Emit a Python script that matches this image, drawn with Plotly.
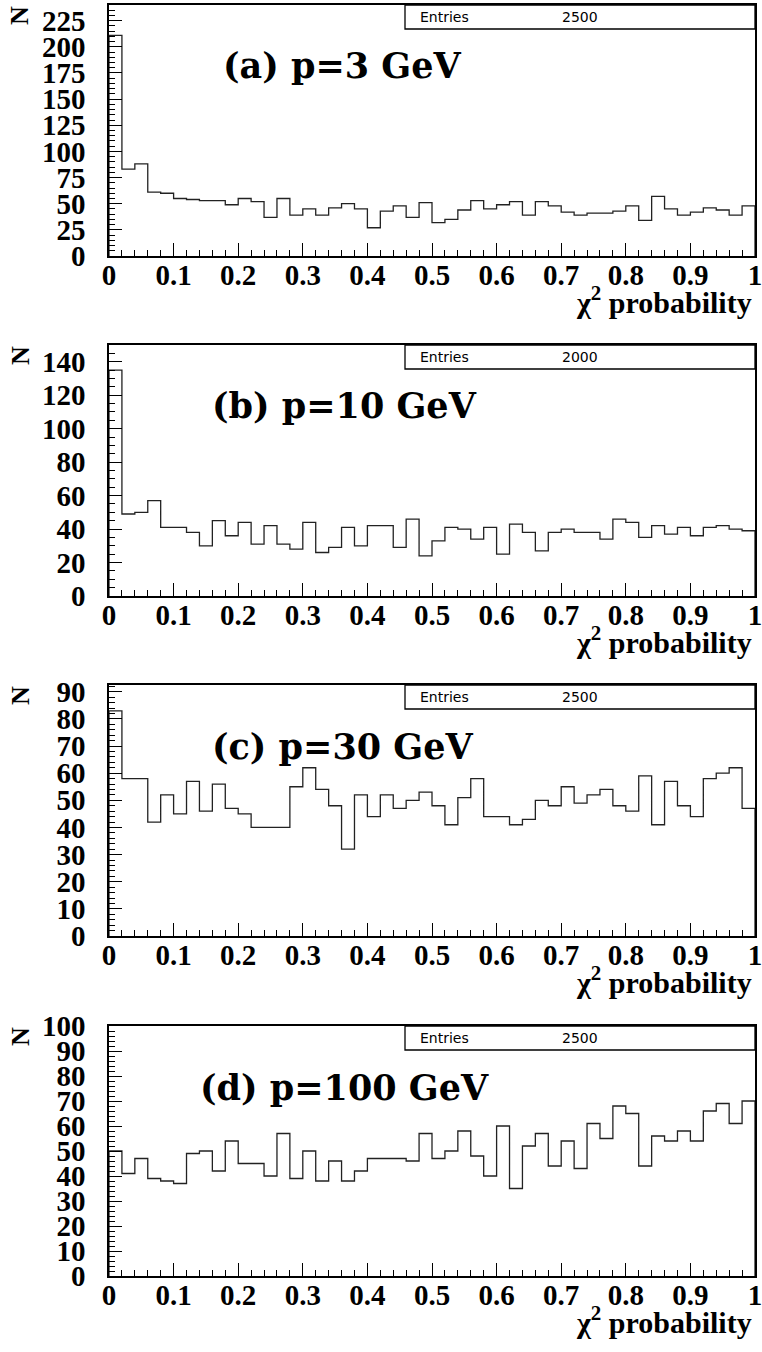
import plotly.graph_objects as go

# ---- data -------------------------------------------------------------
BIN_WIDTH = 0.02
N_BINS = 50

counts_3gev = [211, 83, 88, 61, 60, 55, 54, 53, 53, 49, 55, 52, 37, 55, 39, 45, 39, 46, 50, 45,
               27, 43, 48, 37, 51, 32, 35, 44, 53, 45, 49, 52, 39, 52, 48, 42, 39, 41, 41, 43,
               48, 34, 57, 45, 39, 42, 46, 44, 39, 48]
counts_10gev = [135, 49, 50, 57, 41, 41, 38, 30, 45, 36, 44, 31, 42, 31, 28, 44, 26, 29, 41, 30,
                42, 42, 29, 46, 24, 33, 41, 40, 34, 41, 25, 43, 38, 27, 38, 40, 38, 38, 34, 46,
                44, 35, 42, 37, 41, 36, 41, 42, 40, 39]
counts_30gev = [83, 58, 58, 42, 52, 45, 57, 46, 56, 47, 45, 40, 40, 40, 55, 62, 54, 48, 32, 52,
                44, 52, 47, 50, 53, 48, 41, 51, 58, 44, 44, 41, 43, 50, 48, 55, 49, 52, 54, 48,
                46, 59, 41, 57, 48, 44, 58, 60, 62, 47]
counts_100gev = [50, 41, 47, 39, 38, 37, 49, 50, 42, 54, 45, 45, 40, 57, 39, 50, 38, 46, 38, 42,
                 47, 47, 47, 46, 57, 47, 50, 58, 48, 40, 60, 35, 52, 57, 44, 54, 43, 61, 55, 68,
                 65, 44, 56, 54, 58, 54, 66, 69, 61, 70]

panel_labels = ["(a) p=3 GeV", "(b) p=10 GeV", "(c) p=30 GeV", "(d) p=100 GeV"]
entries = [2500, 2000, 2500, 2500]
y_max = [240, 150, 92.5, 100]
y_major = [25, 20, 10, 10]
y_minor = [5, 5, 2, 2]
x_tick_vals = [0, 0.1, 0.2, 0.3, 0.4, 0.5, 0.6, 0.7, 0.8, 0.9, 1.0]
x_tick_text = ["0", "0.1", "0.2", "0.3", "0.4", "0.5", "0.6", "0.7", "0.8", "0.9", "1"]
x_title = "χ<sup>2</sup> probability"
y_title = "N"

all_counts = [counts_3gev, counts_10gev, counts_30gev, counts_100gev]

# ---- layout geometry (pixels) ------------------------------------------
W, H = 762, 1352
PLOT_LEFT, PLOT_RIGHT = 109, 755
panel_top = [5, 345, 685, 1026]
panel_bottom = [256, 596, 936, 1276]
label_left = [221, 210, 210, 198]


def px(x):
    return x / W


def py(y):
    return 1 - y / H


SERIF = "Liberation Serif"
tick_font = dict(family=SERIF, size=29, color="black", weight="bold")

fig = go.Figure()
layout = dict(
    template="none",
    width=W, height=H,
    margin=dict(l=0, r=0, t=0, b=0, pad=0),
    paper_bgcolor="white", plot_bgcolor="white",
    showlegend=False,
)
annotations = []
shapes = []

edges = [i * BIN_WIDTH for i in range(N_BINS + 1)]

for k, counts in enumerate(all_counts):
    n = "" if k == 0 else str(k + 1)
    xa, ya = "x" + n, "y" + n
    # step outline of the histogram
    xs = [0.0] + edges[:N_BINS] + [1.0, 1.0]
    ys = [0.0] + counts + [counts[-1], 0.0]
    fig.add_trace(go.Scatter(
        x=xs, y=ys, mode="lines", line=dict(color="#222", width=1.3, shape="hv"),
        xaxis=xa, yaxis=ya, hoverinfo="skip", cliponaxis=False,
    ))
    layout["xaxis" + n] = dict(
        domain=[px(PLOT_LEFT), px(PLOT_RIGHT)], anchor=ya, range=[0, 1],
        automargin=False, ticklabeloverflow="allow",
        showgrid=False, zeroline=False, showline=True, linecolor="black", linewidth=1.6,
        mirror=True, ticks="inside", ticklen=13, tickwidth=1, tickcolor="black",
        tickvals=x_tick_vals, ticktext=x_tick_text, tickfont=tick_font,
        ticklabelstandoff=-8,
        minor=dict(ticks="inside", dtick=BIN_WIDTH, ticklen=6, tickwidth=1, tickcolor="black",
                   showgrid=False),
        fixedrange=True,
    )
    layout["yaxis" + n] = dict(
        domain=[py(panel_bottom[k]), py(panel_top[k])], anchor=xa, range=[0, y_max[k]],
        automargin=False, ticklabeloverflow="allow",
        showgrid=False, zeroline=False, showline=True, linecolor="black", linewidth=1.6,
        mirror=True, ticks="inside", ticklen=13, tickwidth=1, tickcolor="black",
        tick0=0, dtick=y_major[k], tickfont=tick_font, ticklabelstandoff=16,
        minor=dict(ticks="inside", dtick=y_minor[k], ticklen=6, tickwidth=1, tickcolor="black",
                   showgrid=False),
        fixedrange=True,
    )

    top = panel_top[k]
    bottom = panel_bottom[k]
    # statistics box
    shapes.append(dict(
        type="rect", xref="paper", yref="paper",
        x0=px(405), x1=px(PLOT_RIGHT), y0=py(top + 24), y1=py(top),
        line=dict(color="black", width=1.3), fillcolor="white",
    ))
    annotations.append(dict(
        text="Entries", xref="paper", yref="paper", x=px(418), y=py(top + 12),
        xanchor="left", yanchor="middle", showarrow=False,
        font=dict(family="DejaVu Sans", size=14, color="black"),
    ))
    annotations.append(dict(
        text=str(entries[k]), xref="paper", yref="paper", x=px(560), y=py(top + 12),
        xanchor="left", yanchor="middle", showarrow=False,
        font=dict(family="DejaVu Sans", size=14, color="black"),
    ))
    # panel label
    annotations.append(dict(
        text=panel_labels[k], xref="paper", yref="paper", x=px(label_left[k]), y=py(top + 61),
        xanchor="left", yanchor="middle", showarrow=False,
        font=dict(family="DejaVu Serif", size=35, color="black", weight="bold"),
    ))
    # axis titles
    annotations.append(dict(
        text=y_title, xref="paper", yref="paper", x=px(20), y=py(top + 11),
        xanchor="center", yanchor="middle", showarrow=False, textangle=-90,
        font=dict(family=SERIF, size=26, color="black", weight="bold"),
    ))
    annotations.append(dict(
        text=x_title, xref="paper", yref="paper", x=px(754), y=py(bottom + 44),
        xanchor="right", yanchor="middle", showarrow=False,
        font=dict(family=SERIF, size=30, color="black", weight="bold"),
    ))

layout["annotations"] = annotations
layout["shapes"] = shapes
fig.update_layout(**layout)
# the page body keeps no margin so the figure fills the window exactly
fig.write_html("out.html", post_script="document.body.style.margin='0';")
